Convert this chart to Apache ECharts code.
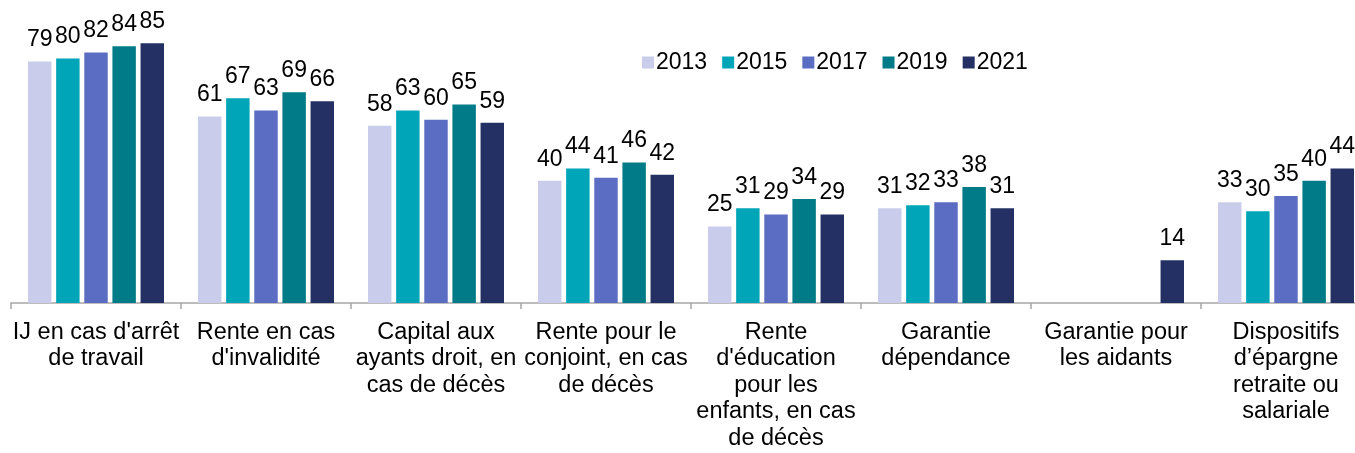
<!DOCTYPE html>
<html lang="fr">
<head>
    <meta charset="UTF-8">
    <title>Garanties</title>
    <script src="https://cdn.jsdelivr.net/npm/echarts@6.0.0/dist/echarts.min.js"></script>
    <style>
        html, body { margin: 0; padding: 0; background: #fff; overflow: hidden; }
        #chart { width: 1371px; height: 453px; }
    </style>
</head>
<body>
    <div id="chart"></div>
    <script>
        const categories = [
            "IJ en cas d'arrêt\nde travail",
            "Rente en cas\nd'invalidité",
            "Capital aux\nayants droit, en\ncas de décès",
            "Rente pour le\nconjoint, en cas\nde décès",
            "Rente\nd'éducation\npour les\nenfants, en cas\nde décès",
            "Garantie\ndépendance",
            "Garantie pour\nles aidants",
            "Dispositifs\nd’épargne\nretraite ou\nsalariale"
        ];
        const years = ['2013', '2015', '2017', '2019', '2021'];
        const colors = ['#C9CDEB', '#00A6B8', '#5B6DC2', '#007B87', '#243063'];
        const v2013 = [79, 61, 58, 40, 25, 31, null, 33];
        const v2015 = [80, 67, 63, 44, 31, 32, null, 30];
        const v2017 = [82, 63, 60, 41, 29, 33, null, 35];
        const v2019 = [84, 69, 65, 46, 34, 38, null, 40];
        const v2021 = [85, 66, 59, 42, 29, 31, 14, 44];
        const values = [v2013, v2015, v2017, v2019, v2021];

        const font = 'Liberation Sans, Arial, sans-serif';
        const chart = echarts.init(document.getElementById('chart'));

        const option = {
            animation: false,
            textStyle: { fontFamily: font },
            legend: {
                data: years,
                left: 637,
                top: 46,
                itemWidth: 12,
                itemHeight: 12,
                itemGap: 15,
                icon: 'rect',
                textStyle: { fontSize: 23, color: '#000', fontFamily: font, padding: [0, 0, 0, -3] }
            },
            grid: {
                left: 11,
                right: 0,
                top: 28,
                bottom: 150,
                containLabel: false
            },
            xAxis: {
                type: 'category',
                data: categories,
                axisLine: { lineStyle: { color: '#a6a6a6', width: 1.5 } },
                axisTick: { show: true, length: 6, lineStyle: { color: '#a6a6a6', width: 1.5 } },
                axisLabel: {
                    interval: 0,
                    margin: 16,
                    fontSize: 23.5,
                    lineHeight: 26.5,
                    color: '#000',
                    fontFamily: font
                }
            },
            yAxis: {
                type: 'value',
                min: 0,
                max: 90,
                show: false
            },
            series: years.map((y, i) => ({
                name: y,
                type: 'bar',
                data: values[i],
                barGap: '20%',
                barCategoryGap: '20%',
                itemStyle: { color: colors[i] },
                label: {
                    show: true,
                    position: 'top',
                    distance: 10,
                    fontSize: 23,
                    color: '#000',
                    fontFamily: font
                }
            }))
        };

        chart.setOption(option);
    </script>
</body>
</html>
